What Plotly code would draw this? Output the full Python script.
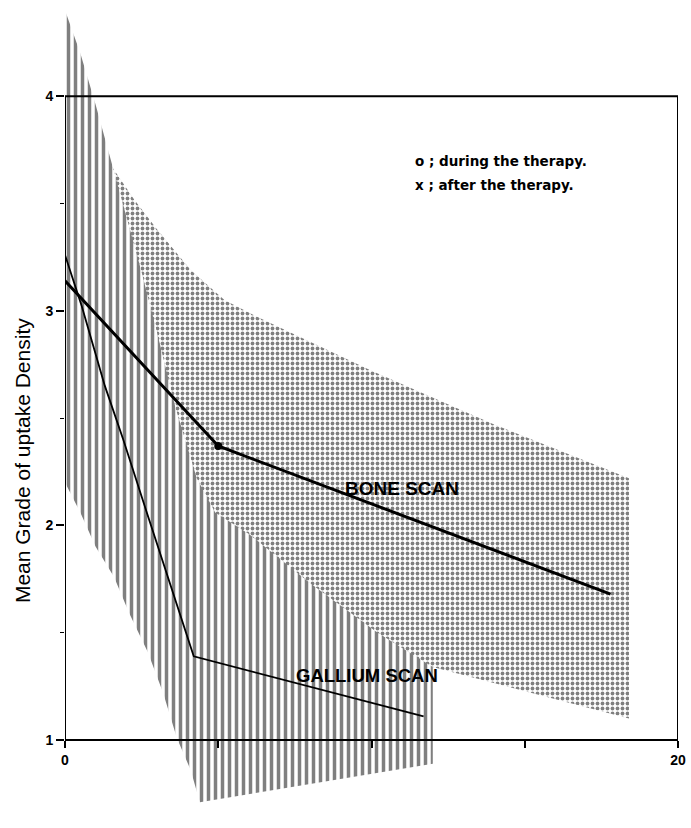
import plotly.graph_objects as go

# ---- data ----
# Bone scan mean line
bone_x = [0, 5.0, 17.8]
bone_y = [3.14, 2.37, 1.68]
# Bone scan range band (stipple)
bone_upper_x = [0, 1.3, 2.25, 3.0, 4.1, 5.2, 6.3, 10, 14, 18.4]
bone_upper_y = [3.95, 3.72, 3.52, 3.38, 3.19, 3.05, 2.97, 2.72, 2.47, 2.22]
bone_lower_x = [0, 5, 8, 10, 12, 18.4]
bone_lower_y = [2.4, 1.85, 1.62, 1.45, 1.34, 1.10]

# Gallium scan mean line
gallium_x = [0, 0.55, 1.3, 1.9, 2.6, 4.2, 11.7]
gallium_y = [3.26, 3.02, 2.65, 2.40, 2.09, 1.39, 1.11]
# Gallium scan range band (vertical hatching)
gallium_upper_x = [0, 0.5, 1.0, 1.5, 2.0, 2.5, 3.0, 3.6, 4.3, 4.9, 6.0, 8.0, 10.2, 12.0]
gallium_upper_y = [4.40, 4.20, 3.96, 3.70, 3.45, 3.18, 2.90, 2.55, 2.22, 2.06, 1.96, 1.73, 1.50, 1.34]
gallium_lower_x = [0, 0.5, 1.0, 1.6, 2.1, 2.7, 3.2, 3.65, 4.1, 4.4, 12.0]
gallium_lower_y = [2.20, 2.06, 1.90, 1.76, 1.59, 1.41, 1.22, 1.01, 0.86, 0.71, 0.89]

# marked measurement point
dot_x = [5.0]
dot_y = [2.37]

y_ticks = [1, 2, 3, 4]
y_minor = [1.5, 2.5, 3.5]
x_ticks = [0, 5, 10, 15, 20]
x_ticktext = ["0", "", "", "", "20"]

X_RANGE = [0, 20]
Y_RANGE = [0.66, 4.42]

fig = go.Figure()

def band(ux, uy, lx, ly):
    return ux + lx[::-1], uy + ly[::-1]

bx, by = band(bone_upper_x, bone_upper_y, bone_lower_x, bone_lower_y)
fig.add_trace(go.Scatter(
    x=bx, y=by, fill="toself", mode="lines", line=dict(width=0, color="black"),
    fillcolor="white",
    fillpattern=dict(shape=".", size=5, solidity=0.45, fgcolor="black", bgcolor="white"),
    hoverinfo="skip", showlegend=False))

gx, gy = band(gallium_upper_x, gallium_upper_y, gallium_lower_x, gallium_lower_y)
fig.add_trace(go.Scatter(
    x=gx, y=gy, fill="toself", mode="lines", line=dict(width=0, color="black"),
    fillcolor="white",
    fillpattern=dict(shape="|", size=7, solidity=0.5, fgcolor="black", bgcolor="white"),
    hoverinfo="skip", showlegend=False))

fig.add_trace(go.Scatter(x=gallium_x, y=gallium_y, mode="lines",
                         line=dict(color="black", width=1.8), showlegend=False))
fig.add_trace(go.Scatter(x=bone_x, y=bone_y, mode="lines",
                         line=dict(color="black", width=3), showlegend=False))
fig.add_trace(go.Scatter(x=dot_x, y=dot_y, mode="markers",
                         marker=dict(color="black", size=8), showlegend=False))

# frame
fig.add_shape(type="rect", xref="x", yref="y", x0=0, x1=20, y0=1, y1=4,
              line=dict(color="black", width=2))

x_pos = (1 - Y_RANGE[0]) / (Y_RANGE[1] - Y_RANGE[0])

tickfont = dict(family="Liberation Sans", size=14, color="black", weight="bold")
fig.update_layout(
    width=691, height=828,
    margin=dict(l=65, r=13, t=6, b=15),
    paper_bgcolor="white", plot_bgcolor="white",
    xaxis=dict(range=X_RANGE, showgrid=False, zeroline=False, showline=False,
               tickvals=x_ticks, ticktext=x_ticktext, ticks="outside", ticklen=7,
               tickwidth=2, tickcolor="black", tickfont=tickfont,
               anchor="free", position=x_pos),
    yaxis=dict(range=Y_RANGE, showgrid=False, zeroline=False, showline=False,
               tickvals=y_ticks, ticks="outside", ticklen=8, tickwidth=2,
               tickcolor="black", tickfont=tickfont,
               minor=dict(tickvals=y_minor, ticks="outside", ticklen=4,
                          tickwidth=1, tickcolor="black")),
)

ann_font = dict(family="Liberation Sans", color="black")
fig.add_annotation(text="BONE SCAN", x=11.0, y=2.17, xref="x", yref="y",
                   showarrow=False, font=dict(**ann_font, size=19, weight="bold"))
fig.add_annotation(text="GALLIUM SCAN", x=9.85, y=1.30, xref="x", yref="y",
                   showarrow=False, font=dict(**ann_font, size=18.5, weight="bold"))
fig.add_annotation(text="o ; during the therapy.", x=11.35, y=3.70, xref="x", yref="y",
                   xanchor="left", showarrow=False,
                   font=dict(family="DejaVu Sans", size=13.5, color="black", weight="bold"))
fig.add_annotation(text="x ; after the therapy.", x=11.35, y=3.585, xref="x", yref="y",
                   xanchor="left", showarrow=False,
                   font=dict(family="DejaVu Sans", size=13.5, color="black", weight="bold"))
fig.add_annotation(text="Mean Grade of uptake Density", textangle=-90,
                   x=-0.07, xref="paper", y=2.3, yref="y", xanchor="center",
                   showarrow=False, font=dict(**ann_font, size=21))
fig.add_annotation(text="Therapy", x=7.75, y=0.65, xref="x", yref="y",
                   showarrow=False, font=dict(**ann_font, size=14, weight="bold"))
fig.add_annotation(text="Month", x=10.3, y=0.64, xref="x", yref="y",
                   showarrow=False, font=dict(**ann_font, size=14, weight="bold"))

fig.write_html("out.html", config={"displayModeBar": False},
               post_script="document.body.style.margin='0px';")
